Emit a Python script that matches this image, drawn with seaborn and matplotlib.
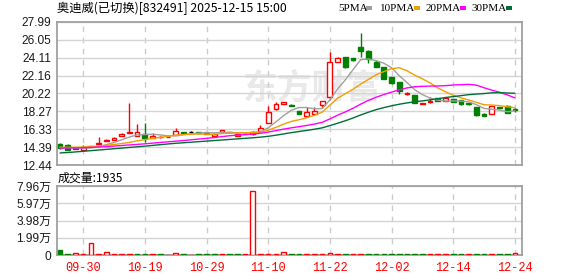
import numpy as np
import pandas as pd
import matplotlib
matplotlib.use("Agg")
import matplotlib.pyplot as plt
from matplotlib.patches import Rectangle
import seaborn as sns

# ---------------- data ----------------
title_text = "奥迪威(已切换)[832491] 2025-12-15 15:00"
tick_dates = ["09-30", "10-19", "10-29", "11-10", "11-22", "12-02", "12-14", "12-24"]
tick_index = [3, 11, 19, 27, 35, 43, 51, 59]
price_ticks = [12.44, 14.39, 16.33, 18.27, 20.22, 22.16, 24.11, 26.05, 27.99]
vol_ticks = [0, 19900, 39800, 59700, 79600]
vol_tick_labels = ["0", "1.99万", "3.98万", "5.97万", "7.96万"]
vol_title = "成交量:1935"
ma_names = ["5PMA", "10PMA", "20PMA", "30PMA"]

open_p = [14.77, 14.66, 14.34, 14.12, 14.50, 14.70, 15.06, 15.20, 15.64, 15.93,
          15.64, 15.86, 15.42, 15.48, 15.50, 15.75, 16.00, 16.00, 15.98, 15.86,
          15.64, 16.04, 16.00, 15.60, 15.85, 15.86, 16.15, 17.06, 18.50, 19.09,
          18.95, 18.32, 17.75, 18.00, 18.97, 19.85, 23.66, 24.14, 24.04, 25.30,
          24.83, 23.60, 23.05, 21.96, 21.42, 20.11, 20.04, 19.12, 19.24, 19.68,
          19.38, 19.57, 19.49, 19.13, 18.70, 17.97, 18.04, 18.77, 18.91, 18.48]
high_p = [14.85, 14.72, 14.40, 14.66, 14.55, 15.50, 15.25, 15.45, 15.90, 19.20,
          16.87, 17.02, 15.90, 15.62, 15.55, 16.47, 16.02, 16.10, 16.00, 15.90,
          15.95, 16.24, 16.02, 15.88, 15.87, 16.10, 16.80, 18.84, 19.30, 19.26,
          19.02, 18.35, 18.76, 18.76, 19.42, 24.69, 24.15, 24.20, 24.12, 26.82,
          24.90, 23.85, 23.10, 22.00, 21.48, 20.40, 20.08, 19.18, 19.85, 19.75,
          19.80, 19.60, 19.52, 19.16, 18.72, 18.05, 18.86, 18.80, 18.95, 18.62]
low_p = [14.20, 14.08, 14.18, 14.05, 14.48, 14.68, 15.04, 15.18, 15.62, 15.93,
         15.60, 14.95, 15.40, 15.40, 15.48, 15.72, 15.95, 15.95, 15.93, 15.84,
         15.55, 16.02, 15.96, 15.55, 15.80, 15.70, 16.12, 17.00, 18.45, 19.07,
         18.85, 18.00, 17.72, 17.98, 18.60, 19.49, 23.62, 22.94, 23.75, 24.21,
         23.50, 23.05, 21.75, 21.30, 20.11, 20.08, 19.16, 19.02, 19.20, 19.38,
         19.35, 19.28, 18.98, 19.00, 17.75, 17.72, 18.00, 18.48, 18.05, 18.20]
close_p = [14.24, 14.12, 14.23, 14.40, 14.52, 14.88, 15.21, 15.43, 15.86, 16.04,
           16.00, 15.42, 15.57, 15.52, 15.52, 16.11, 15.97, 16.00, 15.95, 15.88,
           15.86, 16.22, 15.98, 15.82, 15.83, 16.04, 16.51, 18.22, 19.05, 19.24,
           18.91, 18.04, 18.22, 18.33, 19.38, 23.60, 24.04, 23.12, 23.85, 24.86,
           23.96, 23.12, 21.78, 21.38, 20.50, 20.29, 19.20, 19.14, 19.42, 19.42,
           19.78, 19.31, 19.02, 19.02, 17.86, 17.75, 18.84, 18.62, 18.07, 18.38]
volume = [5200, 700, 2800, 600, 14000, 700, 2900, 600, 700, 800,
          700, 900, 600, 600, 500, 2000, 600, 500, 600, 600,
          700, 700, 600, 700, 600, 73800, 900, 900, 800, 3800,
          700, 800, 700, 700, 800, 2700, 900, 800, 700, 1600,
          800, 700, 900, 700, 800, 600, 900, 600, 700, 600,
          700, 600, 700, 600, 1500, 700, 800, 600, 900, 1935]

ma5 = [14.36, 14.33, 14.30, 14.29, 14.30, 14.43, 14.65, 14.89, 15.18, 15.48,
       15.71, 15.75, 15.78, 15.71, 15.61, 15.63, 15.74, 15.82, 15.91, 15.98,
       15.93, 15.98, 15.98, 15.95, 15.94, 15.98, 16.04, 16.48, 17.13, 17.81,
       18.39, 18.69, 18.69, 18.55, 18.58, 19.51, 20.71, 21.69, 22.80, 23.89,
       23.97, 23.78, 23.51, 23.02, 22.15, 21.41, 20.63, 20.10, 19.71, 19.49,
       19.39, 19.41, 19.39, 19.31, 19.00, 18.59, 18.50, 18.42, 18.23, 18.33]
ma10 = [14.35, 14.36, 14.37, 14.39, 14.43, 14.50, 14.58, 14.67, 14.78, 14.89,
        15.07, 15.20, 15.33, 15.45, 15.55, 15.67, 15.74, 15.80, 15.81, 15.79,
        15.78, 15.86, 15.90, 15.93, 15.96, 15.96, 16.01, 16.23, 16.54, 16.88,
        17.18, 17.36, 17.59, 17.84, 18.19, 18.95, 19.70, 20.19, 20.67, 21.24,
        21.74, 22.25, 22.60, 22.91, 23.02, 22.69, 22.21, 21.81, 21.37, 20.82,
        20.40, 20.02, 19.75, 19.51, 19.25, 18.99, 18.96, 18.90, 18.77, 18.67]
ma20 = [14.28, 14.29, 14.30, 14.32, 14.35, 14.39, 14.44, 14.50, 14.56, 14.62,
        14.68, 14.74, 14.82, 14.89, 14.96, 15.03, 15.10, 15.18, 15.26, 15.34,
        15.42, 15.53, 15.62, 15.69, 15.75, 15.81, 15.88, 16.02, 16.18, 16.34,
        16.48, 16.61, 16.74, 16.89, 17.08, 17.45, 17.86, 18.21, 18.61, 19.06,
        19.46, 19.81, 20.10, 20.37, 20.61, 20.82, 20.95, 21.00, 21.02, 21.03,
        21.07, 21.14, 21.18, 21.21, 21.13, 20.84, 20.58, 20.36, 20.07, 19.74]
ma30 = [13.75, 13.80, 13.86, 13.93, 14.00, 14.07, 14.14, 14.21, 14.28, 14.35,
        14.42, 14.49, 14.57, 14.65, 14.73, 14.80, 14.86, 14.92, 14.98, 15.04,
        15.10, 15.16, 15.22, 15.28, 15.34, 15.40, 15.47, 15.56, 15.68, 15.82,
        15.96, 16.08, 16.20, 16.33, 16.48, 16.72, 16.98, 17.25, 17.55, 17.88,
        18.18, 18.46, 18.68, 18.88, 19.05, 19.19, 19.31, 19.41, 19.53, 19.64,
        19.78, 19.88, 19.98, 20.09, 20.15, 20.21, 20.29, 20.30, 20.27, 20.24]

# ---------------- style ----------------
RED = "#ff0000"
GREEN = "#008000"
MA_COLORS = ["#a0a0a0", "#f0a000", "#ff00ff", "#006f36"]
FRAME = "#a0a0a0"
GRID = "#d4d4d4"

sns.set_theme(style="white")
plt.rcParams["font.family"] = ["Liberation Sans", "Noto Sans CJK SC", "DejaVu Sans"]
plt.rcParams["axes.unicode_minus"] = False

W, H = 578, 276
fig = plt.figure(figsize=(W / 100, H / 100), dpi=100)
fig.patch.set_facecolor("white")

def fx(px):
    return px / W

def fy(py):
    return 1 - py / H

L, R = 57, 522
ax = fig.add_axes([fx(L), fy(165), fx(R - L), (165 - 22) / H])
axv = fig.add_axes([fx(L), fy(255), fx(R - L), (255 - 186) / H])

n = len(close_p)
idx = np.arange(n)
xlim = (-0.39, 59.92)

# ---- price panel ----
o = np.array(open_p); c = np.array(close_p)
hi = np.array(high_p); lo = np.array(low_p)
col = np.where(c > o, RED, np.where(c < o, GREEN, "#000000"))
face = np.where(c > o, "white", col)
bw = 0.62
ax.vlines(idx, lo, hi, colors=col, linewidth=1.0, zorder=3)
ax.bar(idx, np.abs(c - o), bottom=np.minimum(o, c), width=bw,
       color=face, edgecolor=col, linewidth=1.0, zorder=4)

ma_df = pd.DataFrame({"i": np.tile(idx, 4),
                      "v": np.concatenate([ma5, ma10, ma20, ma30]),
                      "ma": np.repeat(ma_names, n)})
sns.lineplot(data=ma_df, x="i", y="v", hue="ma", palette=MA_COLORS,
             hue_order=ma_names, linewidth=1.0, legend=False, ax=ax, zorder=5)

ax.set_xlim(*xlim)
ax.set_ylim(price_ticks[0], price_ticks[-1])
ax.set_yticks(price_ticks)
ax.set_yticklabels([f"{t:.2f}" for t in price_ticks])
ax.set_xticks(tick_index)
ax.set_xticklabels([])
ax.set_xlabel(""); ax.set_ylabel("")

# watermark
ax.text(0.55, 0.54, "东方财富", transform=ax.transAxes, ha="center", va="center",
        fontsize=25, fontweight="bold", color="#e9e9e9", zorder=0.5,
        family=["Noto Sans CJK SC"])

# ---- volume panel ----
v = np.array(volume)
prev = np.concatenate([[o[0]], c[:-1]])
vcol = np.where(c >= prev, RED, GREEN)
vface = np.where(c >= prev, "white", GREEN)
axv.bar(idx, v, width=0.6, color=vface, edgecolor=vcol, linewidth=1.0, zorder=4)
axv.set_xlim(*xlim)
axv.set_ylim(vol_ticks[0], vol_ticks[-1])
axv.set_yticks(vol_ticks)
axv.set_yticklabels(vol_tick_labels)
axv.set_xticks(tick_index)
axv.set_xticklabels(tick_dates, color=RED, family=["Liberation Mono"], fontsize=8.6)

for a in (ax, axv):
    a.grid(axis="y", color=GRID, linewidth=1.0, linestyle="-", zorder=1)
    a.grid(axis="x", color="#cccccc", linewidth=1.0, linestyle=(0, (4, 4)), zorder=1)
    a.set_axisbelow(True)
    for s in a.spines.values():
        s.set_color(FRAME)
        s.set_linewidth(1.3)
    a.tick_params(axis="y", length=3, width=1, color=FRAME, labelsize=8.6,
                  labelcolor="#1a1a1a", pad=1)
    a.tick_params(axis="x", length=0, pad=5)
    a.set_facecolor("white")

# ---- texts ----
fig.text(fx(57), fy(8), title_text, ha="left", va="center", fontsize=8.8,
         color="#000000", family=["Noto Sans CJK SC"])
fig.text(fx(58), fy(178), vol_title, ha="left", va="center", fontsize=8.6,
         color="#000000", family=["Noto Sans CJK SC"])

leg_x = [338, 380, 426, 472]
sq_x = [365, 413, 459, 505]
for name, lx, sx, mc in zip(ma_names, leg_x, sq_x, MA_COLORS):
    fig.text(fx(lx), fy(8.5), name, ha="left", va="center", fontsize=8.0,
             color="#000000", family=["Liberation Serif"])
    fig.patches.append(Rectangle((fx(sx + 1), fy(10)), fx(6), 3.5 / H,
                                 transform=fig.transFigure, facecolor=mc,
                                 edgecolor="none"))

fig.savefig("out.png", dpi=100, facecolor="white")
